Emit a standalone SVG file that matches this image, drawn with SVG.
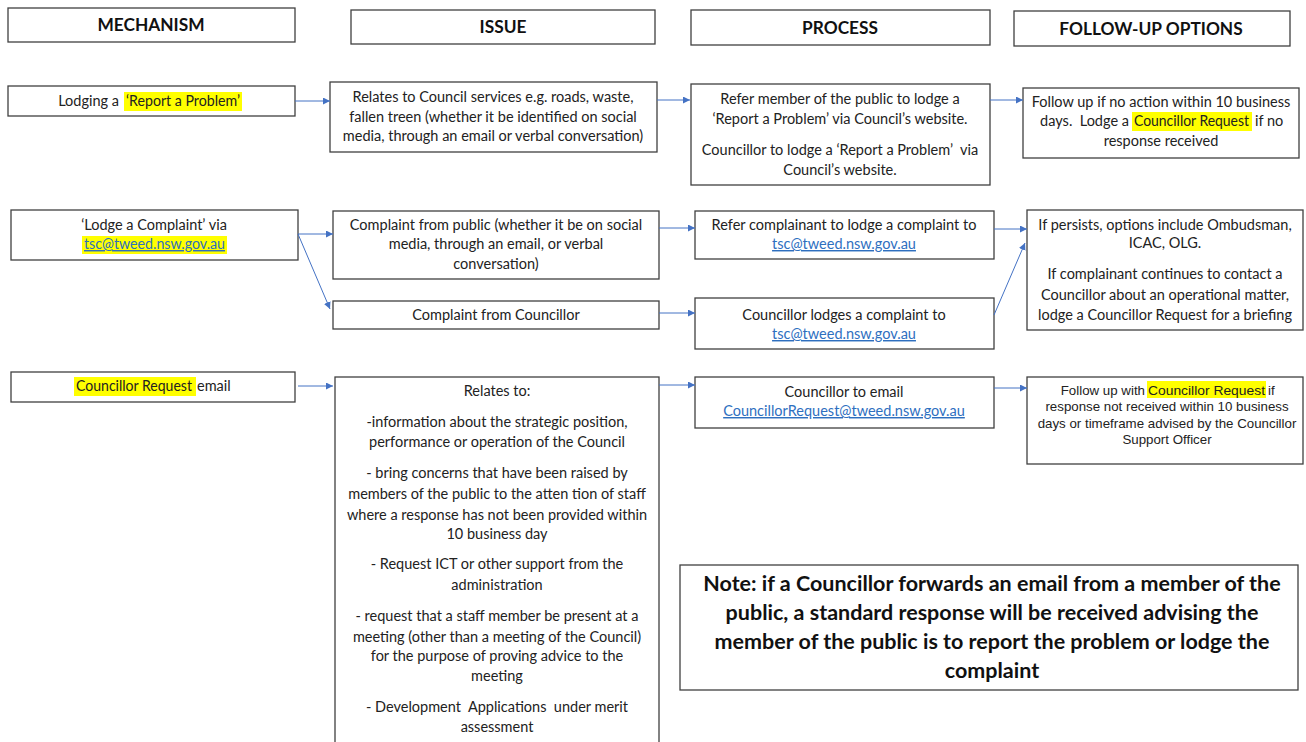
<svg xmlns="http://www.w3.org/2000/svg" width="1306" height="742" viewBox="0 0 1306 742">
<defs>
<marker id="ah" viewBox="0 0 10 10" refX="10" refY="5" markerWidth="7" markerHeight="7" markerUnits="userSpaceOnUse" orient="auto">
<path d="M0,0 L10,5 L0,10 z" fill="#4472C4"/>
</marker>
<style>
.box{fill:#fff;stroke:#404040;stroke-width:1.3}
.t{font-family:Lato,"Liberation Sans",sans-serif;font-size:14.5px;fill:#222;text-anchor:middle}
.h{font-family:Lato,"Liberation Sans",sans-serif;font-size:17.3px;font-weight:bold;fill:#111;text-anchor:middle}
.n{font-family:Lato,"Liberation Sans",sans-serif;font-size:21.5px;font-weight:bold;fill:#111;text-anchor:middle}
.a{font-family:"Liberation Sans",Arial,sans-serif;font-size:13.3px;fill:#222;text-anchor:middle}
.lk{fill:#2E6FBF;text-decoration:underline}
.hl{fill:#FFFF00}
.c{fill:none;stroke:#4472C4;stroke-width:1;marker-end:url(#ah)}
.s{text-anchor:start}
.e{text-anchor:end}
</style>
</defs>
<rect width="1306" height="742" fill="#fff"/>

<g id="hdr-mechanism"><rect class="box" x="8" y="8" width="287" height="34"/><text class="h" x="151" y="31">MECHANISM</text></g>
<g id="hdr-issue"><rect class="box" x="351" y="10" width="304" height="34"/><text class="h" x="503" y="33">ISSUE</text></g>
<g id="hdr-process"><rect class="box" x="691" y="10" width="299" height="35"/><text class="h" x="840" y="34">PROCESS</text></g>
<g id="hdr-followup"><rect class="box" x="1014" y="11" width="276" height="35"/><text class="h" x="1151" y="35">FOLLOW-UP OPTIONS</text></g>

<g id="mech-report"><rect class="box" x="8" y="86" width="287" height="30"/><rect class="hl" x="124" y="92" width="118" height="19"/>
<text class="t e" x="119" y="106">Lodging a</text>
<text class="t s" x="126" y="106" textLength="114" lengthAdjust="spacingAndGlyphs">‘Report a Problem’</text></g>
<g id="issue-report"><rect class="box" x="330" y="82" width="327" height="70"/>
<text class="t" x="493" y="102">Relates to Council services e.g. roads, waste,</text>
<text class="t" x="493" y="122">fallen treen (whether it be identified on social</text>
<text class="t" x="493" y="141">media, through an email or verbal conversation)</text></g>
<g id="process-report"><rect class="box" x="691" y="84" width="299" height="101"/>
<text class="t" x="840" y="104">Refer member of the public to lodge a</text>
<text class="t" x="840" y="124">‘Report a Problem’ via Council’s website.</text>
<text class="t" x="840" y="155">Councillor to lodge a ‘Report a Problem’&#160; via</text>
<text class="t" x="840" y="175">Council’s website.</text></g>
<g id="follow-report"><rect class="box" x="1023" y="88" width="276" height="70"/><rect class="hl" x="1132" y="112" width="120" height="19"/>
<text class="t" x="1161" y="107">Follow up if no action within 10 business</text>
<text class="t e" x="1129" y="126">days.&#160; Lodge a</text>
<text class="t s" x="1134" y="126" textLength="115" lengthAdjust="spacingAndGlyphs">Councillor Request</text>
<text class="t s" x="1255" y="126">if no</text>
<text class="t" x="1161" y="146">response received</text></g>

<g id="mech-complaint"><rect class="box" x="11" y="210" width="287" height="50"/><rect class="hl" x="82" y="236" width="145" height="18"/>
<text class="t" x="154" y="230">‘Lodge a Complaint’ via</text>
<text class="t lk s" x="84" y="249" textLength="141" lengthAdjust="spacingAndGlyphs">tsc@tweed.nsw.gov.au</text></g>
<g id="issue-public"><rect class="box" x="333" y="211" width="326" height="68"/>
<text class="t" x="496" y="230">Complaint from public (whether it be on social</text>
<text class="t" x="496" y="249">media, through an email, or verbal</text>
<text class="t" x="496" y="269">conversation)</text></g>
<g id="issue-councillor"><rect class="box" x="333" y="301" width="326" height="28"/>
<text class="t" x="496" y="320">Complaint from Councillor</text></g>
<g id="process-public"><rect class="box" x="695" y="211" width="299" height="48"/>
<text class="t" x="844" y="230">Refer complainant to lodge a complaint to</text>
<text class="t lk" x="844" y="249">tsc@tweed.nsw.gov.au</text></g>
<g id="process-councillor"><rect class="box" x="695" y="298" width="299" height="51"/>
<text class="t" x="844" y="320">Councillor lodges a complaint to</text>
<text class="t lk" x="844" y="339">tsc@tweed.nsw.gov.au</text></g>
<g id="follow-complaint"><rect class="box" x="1027" y="210" width="276" height="120"/>
<text class="t" x="1165" y="230">If persists, options include Ombudsman,</text>
<text class="t" x="1165" y="248">ICAC, OLG.</text>
<text class="t" x="1165" y="279">If complainant continues to contact a</text>
<text class="t" x="1165" y="300">Councillor about an operational matter,</text>
<text class="t" x="1165" y="320">lodge a Councillor Request for a briefing</text></g>

<g id="mech-request"><rect class="box" x="11" y="372" width="284" height="30"/><rect class="hl" x="74" y="377" width="122" height="19"/>
<text class="t s" x="76" y="391" textLength="116" lengthAdjust="spacingAndGlyphs">Councillor Request</text>
<text class="t s" x="197" y="391">email</text></g>
<g id="issue-request"><rect class="box" x="335" y="377" width="324" height="380"/>
<text class="t" x="497" y="396">Relates to:</text>
<text class="t" x="497" y="427">-information about the strategic position,</text>
<text class="t" x="497" y="447">performance or operation of the Council</text>
<text class="t" x="497" y="478">- bring concerns that have been raised by</text>
<text class="t" x="497" y="499">members of the public to the atten tion of staff</text>
<text class="t" x="497" y="520">where a response has not been provided within</text>
<text class="t" x="497" y="539">10 business day</text>
<text class="t" x="497" y="569">- Request ICT or other support from the</text>
<text class="t" x="497" y="590">administration</text>
<text class="t" x="497" y="621">- request that a staff member be present at a</text>
<text class="t" x="497" y="642">meeting (other than a meeting of the Council)</text>
<text class="t" x="497" y="661">for the purpose of proving advice to the</text>
<text class="t" x="497" y="681">meeting</text>
<text class="t" x="497" y="712">- Development&#160; Applications&#160; under merit</text>
<text class="t" x="497" y="732">assessment</text></g>
<g id="process-request"><rect class="box" x="695" y="377" width="299" height="51"/>
<text class="t" x="844" y="397">Councillor to email</text>
<text class="t lk" x="844" y="416">CouncillorRequest@tweed.nsw.gov.au</text></g>
<g id="follow-request"><rect class="box" x="1027" y="377" width="276" height="87"/><rect class="hl" x="1147" y="381" width="119" height="17"/>
<text class="a e" x="1145" y="395">Follow up with</text>
<text class="a s" x="1148" y="395" textLength="117" lengthAdjust="spacingAndGlyphs">Councillor Request</text>
<text class="a s" x="1268" y="395">if</text>
<text class="a" x="1167" y="411">response not received within 10 business</text>
<text class="a" x="1167" y="428">days or timeframe advised by the Councillor</text>
<text class="a" x="1167" y="444">Support Officer</text></g>

<g id="note"><rect class="box" x="680" y="565" width="618" height="125"/>
<text class="n" x="992" y="591">Note: if a Councillor forwards an email from a member of the</text>
<text class="n" x="992" y="620">public, a standard response will be received advising the</text>
<text class="n" x="992" y="649">member of the public is to report the problem or lodge the</text>
<text class="n" x="992" y="678">complaint</text></g>

<g id="connectors">
<line class="c" x1="295" y1="101" x2="330" y2="101"/>
<line class="c" x1="657" y1="100" x2="690" y2="100"/>
<line class="c" x1="990" y1="100" x2="1023" y2="100"/>
<line class="c" x1="298" y1="234" x2="333" y2="234"/>
<line class="c" x1="298" y1="234" x2="330" y2="309"/>
<line class="c" x1="659" y1="228" x2="695" y2="228"/>
<line class="c" x1="659" y1="313" x2="695" y2="313"/>
<line class="c" x1="994" y1="229" x2="1027" y2="229"/>
<line class="c" x1="994" y1="315" x2="1025" y2="243"/>
<line class="c" x1="298" y1="386" x2="333" y2="386"/>
<line class="c" x1="659" y1="385" x2="695" y2="385"/>
<line class="c" x1="994" y1="388" x2="1027" y2="388"/>
</g>
</svg>
